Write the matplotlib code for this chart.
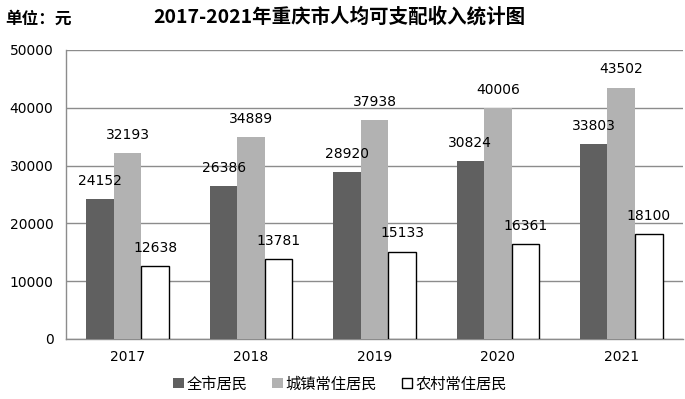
import matplotlib.pyplot as plt
import numpy as np

plt.rcParams['font.family'] = ['Noto Sans CJK SC', 'DejaVu Sans']

years = ['2017', '2018', '2019', '2020', '2021']
all_res = [24152, 26386, 28920, 30824, 33803]
urban = [32193, 34889, 37938, 40006, 43502]
rural = [12638, 13781, 15133, 16361, 18100]
series_names = ['全市居民', '城镇常住居民', '农村常住居民']

fig = plt.figure(figsize=(6.85, 3.99), dpi=100)
ax = fig.add_axes([0.0964, 0.1504, 0.9006, 0.7243])

x = np.arange(len(years))
w = 0.223
colors = ['#606060', '#b2b2b2', 'white']
edges = ['#606060', '#b2b2b2', 'black']
for i, vals in enumerate([all_res, urban, rural]):
    bars = ax.bar(x + (i - 1) * w, vals, w, color=colors[i], edgecolor=edges[i],
                  linewidth=1.0 if i == 2 else 0, label=series_names[i], zorder=3)
    for b, v in zip(bars, vals):
        ax.annotate(str(v), (b.get_x() + b.get_width() / 2, v), xytext=(0, 8),
                    textcoords='offset points', ha='center', va='bottom',
                    fontsize=10, family='DejaVu Sans', zorder=4)

ax.set_xlim(-0.5, len(years) - 0.5)
ax.set_ylim(0, 50000)
ax.set_yticks(range(0, 50001, 10000))
ax.set_xticks(x)
ax.set_xticklabels(years, family='DejaVu Sans', fontsize=10)
ax.tick_params(axis='y', labelsize=10, length=0, pad=9)
ax.tick_params(axis='x', length=0, pad=8)
for lab in ax.get_yticklabels():
    lab.set_family('DejaVu Sans')
ax.grid(axis='y', color='#8c8c8c', linewidth=1.0, zorder=0)
for s in ['top', 'right']:
    ax.spines[s].set_visible(False)
for s in ['left', 'bottom']:
    ax.spines[s].set_color('#8c8c8c')
    ax.spines[s].set_linewidth(1.0)

fig.text(0.495, 0.958, '2017-2021年重庆市人均可支配收入统计图', ha='center', va='center',
         fontsize=14, fontweight='bold')
fig.text(0.007, 0.952, '单位：元', ha='left', va='center', fontsize=12, fontweight='bold')

ax.legend(loc='center', bbox_to_anchor=(0.444, -0.155), ncol=3, frameon=False,
          fontsize=11, handlelength=0.7, handleheight=0.7, handletextpad=0.2,
          columnspacing=1.6, borderpad=0.2)

fig.savefig('out.png', dpi=100)
